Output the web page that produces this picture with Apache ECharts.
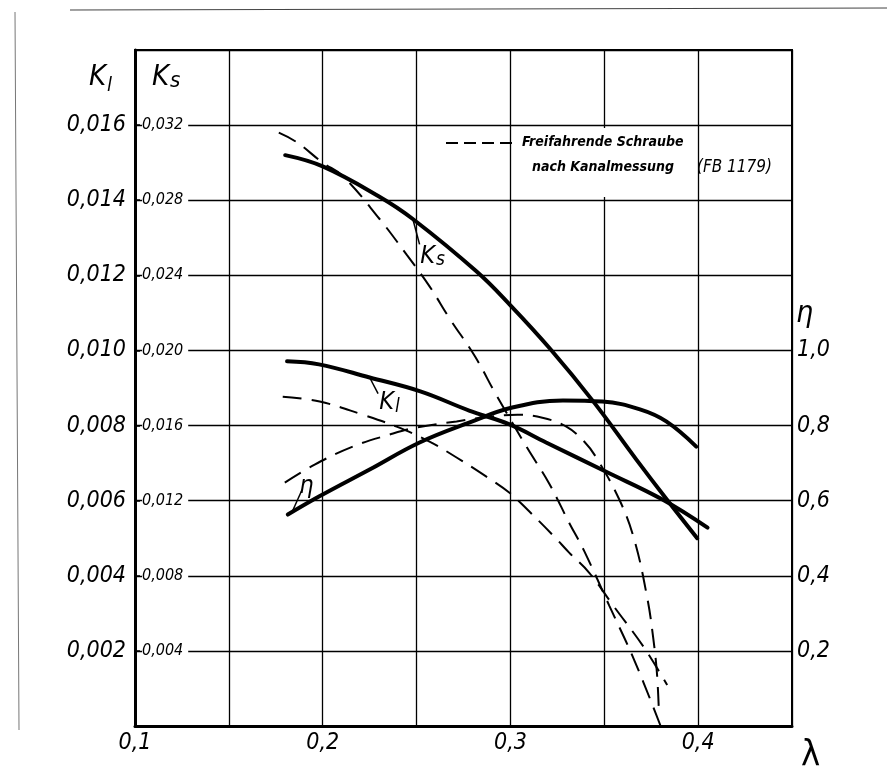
<!DOCTYPE html>
<html><head><meta charset="utf-8">
<script src="https://cdn.jsdelivr.net/npm/echarts@6.0.0/dist/echarts.min.js"></script>
<style>html,body{margin:0;padding:0;background:#fff}#c{width:887px;height:779px}</style>
</head><body><div id="c"></div>
<script>
const FONT = "'Liberation Sans Narrow','DejaVu Sans Condensed','Liberation Sans',sans-serif";

// ---- tick labels ----
const xLabelValues = [0.1, 0.2, 0.3, 0.4];
const klLabelValues = [0.002, 0.004, 0.006, 0.008, 0.010, 0.012, 0.014, 0.016];
const ksLabelValues = [0.004, 0.008, 0.012, 0.016, 0.020, 0.024, 0.028, 0.032];
const etaLabelValues = [0.2, 0.4, 0.6, 0.8, 1.0];

// ---- solid curves (measurement) ----
const ksSolidLam = [0.180, 0.200, 0.230, 0.248, 0.282, 0.300, 0.321, 0.344, 0.367, 0.383, 0.3995];
const ksSolidVal = [0.0304, 0.0298, 0.0282, 0.0270, 0.0242, 0.0224, 0.0201, 0.0173, 0.0142, 0.0121, 0.0100];

const klSolidLam = [0.181, 0.198, 0.225, 0.252, 0.278, 0.2995, 0.319, 0.351, 0.381, 0.405];
const klSolidVal = [0.00971, 0.00963, 0.00928, 0.00891, 0.00840, 0.00803, 0.00755, 0.00677, 0.00603, 0.00528];

const etaSolidLam = [0.1814, 0.198, 0.225, 0.2516, 0.278, 0.301, 0.328, 0.349, 0.369, 0.383, 0.399];
const etaSolidVal = [0.563, 0.611, 0.683, 0.755, 0.808, 0.848, 0.867, 0.864, 0.843, 0.811, 0.744];

// ---- dashed curves (Freifahrende Schraube nach Kanalmessung, FB 1179) ----
const ksDashLam = [0.1766, 0.186, 0.200, 0.2106, 0.2303, 0.2447, 0.257, 0.2676, 0.281, 0.2926, 0.309, 0.3207, 0.3314, 0.3394, 0.3527, 0.366, 0.380];
const ksDashVal = [0.0316, 0.0311, 0.0300, 0.0293, 0.0270, 0.0251, 0.0234, 0.0217, 0.0197, 0.0176, 0.0148, 0.0129, 0.0108, 0.0093, 0.0064, 0.0035, 0.0000];

const klDashLam = [0.1787, 0.1984, 0.2213, 0.2394, 0.2569, 0.2713, 0.2872, 0.2995, 0.3101, 0.3234, 0.3314, 0.342, 0.3553, 0.3713, 0.3835];
const klDashVal = [0.00877, 0.00864, 0.00829, 0.00797, 0.00757, 0.00715, 0.00664, 0.00621, 0.00571, 0.00504, 0.00461, 0.00408, 0.00317, 0.00208, 0.00109];

const etaDashLam = [0.1798, 0.1957, 0.216, 0.2356, 0.250, 0.2713, 0.285, 0.3037, 0.317, 0.3298, 0.3394, 0.3457, 0.358, 0.366, 0.3729, 0.376, 0.378, 0.379];
const etaDashVal = [0.648, 0.696, 0.744, 0.776, 0.795, 0.811, 0.821, 0.829, 0.821, 0.797, 0.757, 0.715, 0.603, 0.496, 0.341, 0.237, 0.144, 0.051];

// ---- curve annotations (data space) ----
const ksNote = { label: [0.2585, 0.0250], from: [0.248, 0.0270], to: [0.2516, 0.02565] };
const klNote = { label: [0.2356, 0.00861], from: [0.225, 0.00928], to: [0.2295, 0.00885] };
const etaNote = { label: [0.1915, 0.637], from: [0.1835, 0.568], to: [0.189, 0.629] };

function pairs(xs, ys) { return xs.map((x, i) => [x, ys[i]]); }
function fmt(v, d) { return v.toFixed(d).replace('.', ','); }
function pick(list, d) {
  return v => list.some(t => Math.abs(t - v) < 1e-9) ? fmt(v, d) : '';
}
const BLACK = '#000';
const txt = (size, extra) => Object.assign({ color: BLACK, fontFamily: FONT, fontStyle: 'italic', fontSize: size }, extra || {});

function note(n, k, sub) {
  return {
    markPoint: {
      symbol: 'circle', symbolSize: 0, silent: true,
      data: [{ coord: n.label, label: {
        show: true, position: 'inside', formatter: '{k|' + k + '}{s|' + sub + '}',
        rich: { k: txt(25), s: txt(19, { verticalAlign: 'bottom', padding: [8, 0, 0, 1] }) }
      } }]
    },
    markLine: {
      silent: true, symbol: ['none', 'none'], label: { show: false },
      lineStyle: { color: BLACK, width: 1.5, type: 'solid' },
      data: [[{ coord: n.from }, { coord: n.to }]]
    }
  };
}

function solid(name, xs, ys, yi, extra) {
  return Object.assign({
    name, type: 'line', yAxisIndex: yi, data: pairs(xs, ys), smooth: 0.4,
    showSymbol: false, symbol: 'none', z: 5,
    lineStyle: { color: BLACK, width: 4, cap: 'round' }
  }, extra || {});
}
function dashed(name, xs, ys, yi) {
  return {
    name, type: 'line', yAxisIndex: yi, data: pairs(xs, ys), smooth: 0.4,
    showSymbol: false, symbol: 'none', z: 4,
    lineStyle: { color: BLACK, width: 2, type: [19, 10] }
  };
}

const chart = echarts.init(document.getElementById('c'));
const option = {
  animation: false,
  backgroundColor: '#fff',
  grid: { left: 135, top: 50, width: 657, height: 676, show: true, borderColor: BLACK, borderWidth: 2, backgroundColor: 'transparent' },
  xAxis: {
    type: 'value', min: 0.1, max: 0.45, interval: 0.05,
    axisLine: { show: true, onZero: false, lineStyle: { color: BLACK, width: 3 } },
    axisTick: { show: false },
    splitLine: { show: true, lineStyle: { color: BLACK, width: 1.3 } },
    axisLabel: txt(23, { margin: 6, formatter: pick(xLabelValues, 1) })
  },
  yAxis: [
    {
      type: 'value', position: 'left', min: 0, max: 0.018, interval: 0.002,
      axisLine: { show: true, onZero: false, lineStyle: { color: BLACK, width: 3 } },
      axisTick: { show: false },
      splitLine: { show: true, lineStyle: { color: BLACK, width: 1.3 } },
      axisLabel: txt(23, { margin: 9, formatter: pick(klLabelValues, 3) })
    },
    {
      type: 'value', position: 'left', min: 0, max: 0.036, interval: 0.004,
      axisLine: { show: false },
      axisTick: { show: true, inside: true, length: 5, lineStyle: { color: BLACK, width: 1.5 } },
      splitLine: { show: false },
      axisLabel: txt(16, { inside: true, margin: 7, showMinLabel: false, showMaxLabel: false, backgroundColor: '#fff', padding: [1, 5, 1, 0], formatter: pick(ksLabelValues, 3) })
    },
    {
      type: 'value', position: 'right', min: 0, max: 1.8, interval: 0.2,
      axisLine: { show: true, lineStyle: { color: BLACK, width: 2 } },
      axisTick: { show: false },
      splitLine: { show: false },
      axisLabel: txt(23, { margin: 5, formatter: pick(etaLabelValues, 1) })
    }
  ],
  series: [
    solid('Ks', ksSolidLam, ksSolidVal, 1, note(ksNote, 'K', 's')),
    solid('Kl', klSolidLam, klSolidVal, 0, note(klNote, 'K', 'l')),
    solid('η', etaSolidLam, etaSolidVal, 2, note(etaNote, 'η', '')),
    dashed('Ks frei', ksDashLam, ksDashVal, 1),
    dashed('Kl frei', klDashLam, klDashVal, 0),
    dashed('η frei', etaDashLam, etaDashVal, 2)
  ],
  graphic: [
    // scanned page edges
    { type: 'line', shape: { x1: 70, y1: 10, x2: 887, y2: 8 }, z: 1, style: { stroke: '#444', lineWidth: 1.2 } },
    { type: 'line', shape: { x1: 15, y1: 12, x2: 19, y2: 730 }, z: 1, style: { stroke: '#777', lineWidth: 1 } },
    // axis titles
    { type: 'text', left: 89, top: 63, z: 100, style: { text: 'K', fill: BLACK, font: 'italic 29px ' + FONT } },
    { type: 'text', left: 107, top: 76, z: 100, style: { text: 'l', fill: BLACK, font: 'italic 20px ' + FONT } },
    { type: 'text', left: 152, top: 63, z: 100, style: { text: 'K', fill: BLACK, font: 'italic 29px ' + FONT } },
    { type: 'text', left: 170, top: 70, z: 100, style: { text: 's', fill: BLACK, font: 'italic 22px ' + FONT } },
    { type: 'text', left: 796, top: 299, z: 100, style: { text: 'η', fill: BLACK, font: 'italic 30px ' + FONT } },
    { type: 'text', left: 801, top: 738, z: 100, style: { text: 'λ', fill: BLACK, font: '36px ' + FONT } },
    // legend box
    { type: 'rect', shape: { x: 512, y: 128, width: 182, height: 69 }, z: 90, style: { fill: '#fff' } },
    { type: 'line', shape: { x1: 446, y1: 143, x2: 518, y2: 143 }, z: 100, style: { stroke: BLACK, lineWidth: 2, lineDash: [12, 6] } },
    { type: 'text', left: 522, top: 135, z: 100, style: { text: 'Freifahrende Schraube', fill: BLACK, font: 'italic bold 14px ' + FONT } },
    { type: 'text', left: 532, top: 160, z: 100, style: { text: 'nach Kanalmessung', fill: BLACK, font: 'italic bold 14px ' + FONT } },
    { type: 'text', left: 697, top: 159, z: 100, style: { text: '(FB 1179)', fill: BLACK, font: 'italic 17px ' + FONT } }
  ]
};
chart.setOption(option);
</script>
</body></html>
